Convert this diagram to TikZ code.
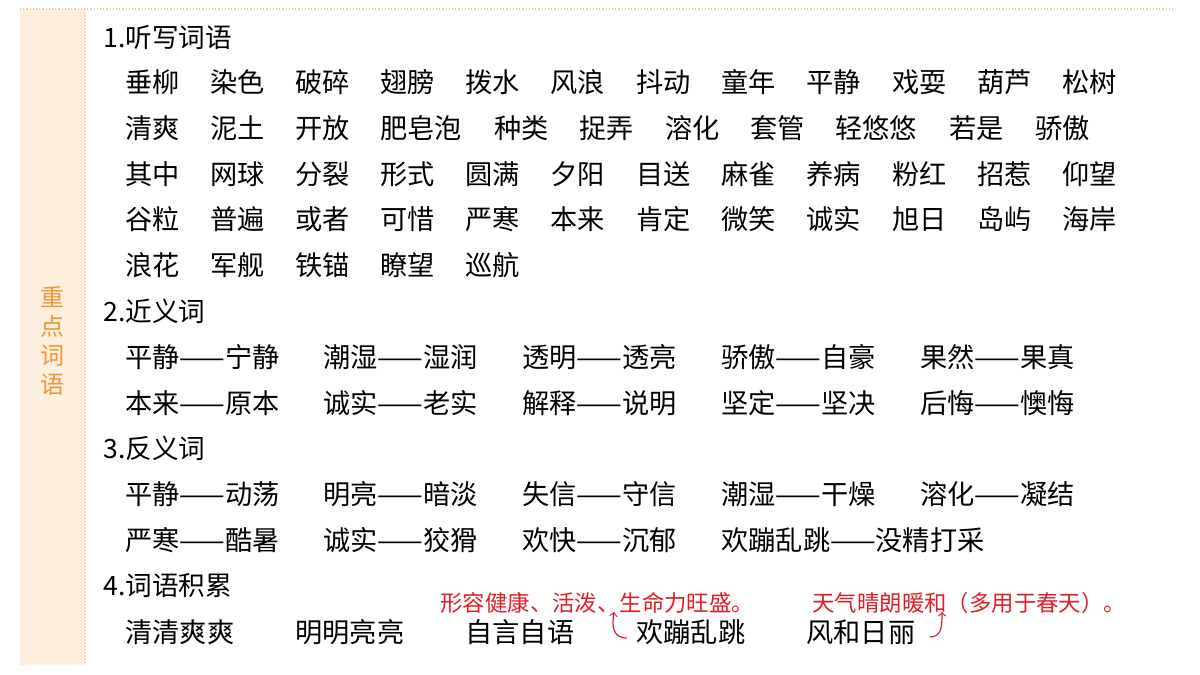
\documentclass[tikz,border=0pt]{standalone}
\usepackage{fontspec}
\setmainfont{Noto Sans CJK SC}
\definecolor{barfill}{RGB}{253,238,222}
\definecolor{dotc}{RGB}{245,200,160}
\definecolor{orangetxt}{RGB}{240,150,60}
\definecolor{redtxt}{RGB}{225,30,40}
\begin{document}
\begin{tikzpicture}[x=0.5pt,y=-0.5pt,
  w/.style={anchor=west,inner sep=0,font=\fontsize{13.6}{15}\selectfont},
  hd/.style={anchor=west,inner sep=0,font=\fontsize{13.3}{15}\selectfont},
  note/.style={anchor=west,inner sep=0,text=redtxt,font=\fontsize{11.2}{12}\selectfont},
  arr/.style={redtxt,line width=0.6pt,->}]
\useasboundingbox (0,0) rectangle (1200,675);
\fill[barfill] (20,9) rectangle (85,665);
\draw[dotc,densely dotted,line width=0.6pt] (20,9) -- (1175,9);
\draw[dotc,densely dotted,line width=0.6pt] (85,9) -- (85,665);
\node[align=center,text=orangetxt,font=\fontsize{12}{14.5}\selectfont,inner sep=0] (bar) at (52,341) {重\\点\\词\\语};
% headings
\node[hd] (h1) at (103,37) {1.听写词语};
\node[hd] (h2) at (103,311) {2.近义词};
\node[hd] (h3) at (103,448) {3.反义词};
\node[hd] (h4) at (103,586) {4.词语积累};
% row 1
\foreach \x/\t [count=\i] in {125/垂柳,210/染色,295/破碎,380/翅膀,465/拨水,550/风浪,636/抖动,721/童年,806/平静,892/戏耍,977/葫芦,1062/松树}
  \node[w] (a\i) at (\x,82) {\t};
\foreach \x/\t [count=\i] in {125/清爽,210/泥土,295/开放,380/肥皂泡,494/种类,579/捉弄,665/溶化,750/套管,835/轻悠悠,949/若是,1035/骄傲}
  \node[w] (b\i) at (\x,128) {\t};
\foreach \x/\t [count=\i] in {125/其中,210/网球,295/分裂,380/形式,465/圆满,550/夕阳,636/目送,721/麻雀,806/养病,892/粉红,977/招惹,1062/仰望}
  \node[w] (c\i) at (\x,174) {\t};
\foreach \x/\t [count=\i] in {125/谷粒,210/普遍,295/或者,380/可惜,465/严寒,550/本来,636/肯定,721/微笑,806/诚实,892/旭日,977/岛屿,1062/海岸}
  \node[w] (d\i) at (\x,219) {\t};
\foreach \x/\t [count=\i] in {125/浪花,210/军舰,295/铁锚,380/瞭望,465/巡航}
  \node[w] (e\i) at (\x,265) {\t};
% synonyms
\foreach \x/\t [count=\i] in {125/平静——宁静,323/潮湿——湿润,522/透明——透亮,721/骄傲——自豪,920/果然——果真}
  \node[w] (f\i) at (\x,357) {\t};
\foreach \x/\t [count=\i] in {125/本来——原本,323/诚实——老实,522/解释——说明,721/坚定——坚决,920/后悔——懊悔}
  \node[w] (g\i) at (\x,403) {\t};
% antonyms
\foreach \x/\t [count=\i] in {125/平静——动荡,323/明亮——暗淡,522/失信——守信,721/潮湿——干燥,920/溶化——凝结}
  \node[w] (k\i) at (\x,494) {\t};
\foreach \x/\t [count=\i] in {125/严寒——酷暑,323/诚实——狡猾,522/欢快——沉郁,721/欢蹦乱跳——没精打采}
  \node[w] (m\i) at (\x,540) {\t};
% accumulation
\foreach \x/\t [count=\i] in {125/清清爽爽,295/明明亮亮,465/自言自语,636/欢蹦乱跳,806/风和日丽}
  \node[w] (n\i) at (\x,632) {\t};
\node[note] (r1) at (440,603) {形容健康、活泼、生命力旺盛。};
\node[note] (r2) at (812,603) {天气晴朗暖和（多用于春天）。};
\coordinate (s1) at (627,638);
\coordinate (s2) at (930,637);
\draw[arr] (s1) .. controls (612,638) and (612,625) .. (614,612);
\draw[arr] (s2) .. controls (942,637) and (942,625) .. (942,612);
\end{tikzpicture}
\end{document}
